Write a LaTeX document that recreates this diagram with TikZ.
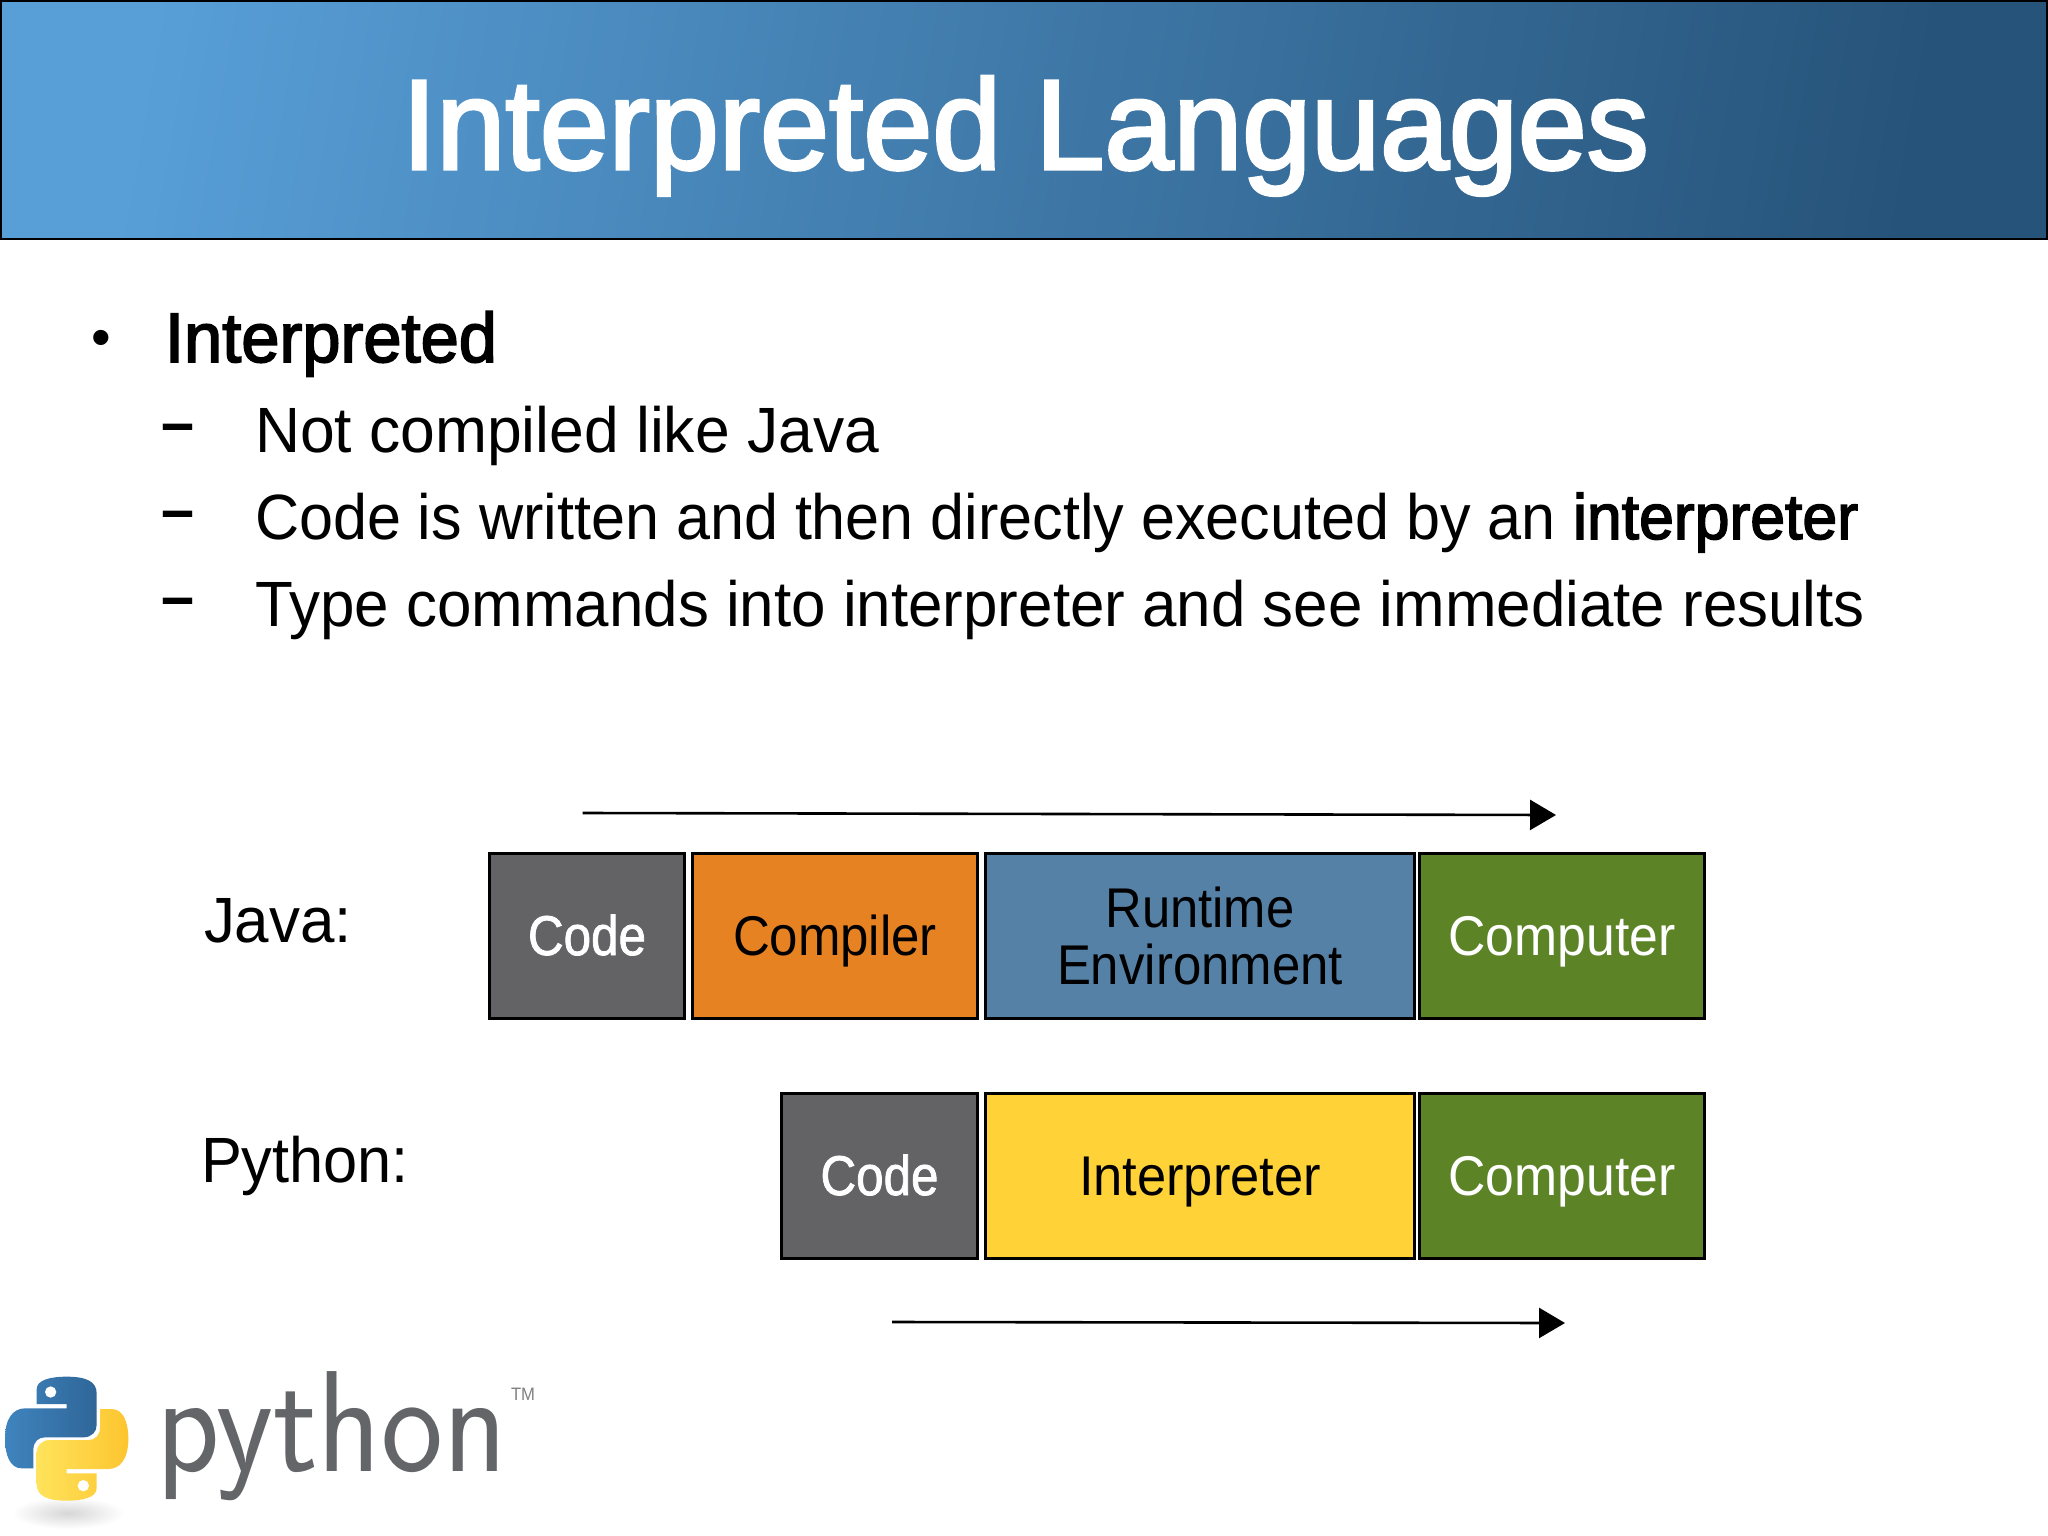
\documentclass[tikz,border=0pt]{standalone}
\usepackage{fontspec}
\usepackage{graphicx}
\usetikzlibrary{arrows.meta}
\setmainfont{Liberation Sans}
\newfontfamily\medfont[FakeBold=2.5]{Liberation Sans}
\newfontfamily\semifont[FakeBold=1.5]{Liberation Sans}
\definecolor{hdA}{HTML}{589FD8}
\definecolor{hdB}{HTML}{3F76A8}
\definecolor{hdC}{HTML}{265379}
\definecolor{cgray}{HTML}{636265}
\definecolor{corange}{HTML}{E78223}
\definecolor{cblue}{HTML}{5681A6}
\definecolor{cgreen}{HTML}{5C8427}
\definecolor{cyellow}{HTML}{FFD338}
\definecolor{wordgray}{HTML}{646569}
\definecolor{pyblueA}{HTML}{3F84BF}
\definecolor{pyblueB}{HTML}{2F6698}
\definecolor{pyyelA}{HTML}{FFE35C}
\definecolor{pyyelB}{HTML}{FDC52F}
\newcommand{\fitw}[2]{\resizebox{#1pt}{\height}{#2}}
\tikzset{
  txt/.style={inner sep=0pt,outer sep=0pt,anchor=base west},
  block/.style={draw=black,line width=1.4pt,minimum height=82.5pt,inner sep=0pt,outer sep=0pt,anchor=north west,
    font=\fontsize{28}{28.5}\selectfont},
  oneline/.style={text height=22pt,text depth=3pt},
  flow/.style={line width=1.3pt,-{Triangle[length=13pt,width=15pt]}}
}
\begin{document}
\begin{tikzpicture}[x=0.5pt,y=-0.5pt]
\useasboundingbox (0,0) rectangle (2048,1535);
\fill[white] (0,0) rectangle (2048,1535);
% header
\shade[left color=hdA,middle color=hdB,right color=hdC,shading angle=80] (0,0) rectangle (2048,239);
\draw[black,line width=1.3pt] (1,1) rectangle (2047,239);
\node[txt,text=white] (title) at (402,169) {\fontsize{64}{64}\medfont\fitw{623.5}{Interpreted Languages}};
% bullets
\node[txt] (b0) at (91,357) {\fontsize{28}{28}\selectfont •};
\node[txt] (l0) at (165,362) {\fontsize{35}{35}\medfont\fitw{166}{Interpreted}};
\node[txt] (d1) at (161,444) {\fontsize{32}{32}\selectfont\bfseries\fitw{16.5}{–}};
\node[txt] (l1) at (255,452) {\fontsize{32}{32}\selectfont\fitw{312}{Not compiled like Java}};
\node[txt] (d2) at (161,531) {\fontsize{32}{32}\selectfont\bfseries\fitw{16.5}{–}};
\node[txt] (l2) at (255,539) {\fontsize{32}{32}\selectfont\fitw{659}{Code is written and then directly executed by an\ }\fitw{142.5}{\medfont interpreter}};
\node[txt] (d3) at (161,618) {\fontsize{32}{32}\selectfont\bfseries\fitw{16.5}{–}};
\node[txt] (l3) at (255,626) {\fontsize{32}{32}\selectfont\fitw{805}{Type commands into interpreter and see immediate results}};
% labels
\node[txt] (java) at (204,942) {\fontsize{32}{32}\selectfont\fitw{74}{Java:}};
\node[txt] (python) at (201,1182) {\fontsize{32}{32}\selectfont\fitw{104}{Python:}};
% Java row
\node[block,oneline,fill=cgray,text=white,minimum width=97.5pt] (jcode) at (489.5,853.5) {\semifont\fitw{59}{Code}};
\node[block,oneline,fill=corange,minimum width=142.5pt] (jcomp) at (692.5,853.5) {\fitw{102}{Compiler}};
\node[block,fill=cblue,minimum width=214.5pt,align=center] (jrun) at (985.5,853.5) {\fitw{94.5}{Runtime}\\\fitw{143}{Environment}};
\node[block,oneline,fill=cgreen,text=white,minimum width=142.5pt] (jpc) at (1419.5,853.5) {\fitw{113.5}{Computer}};
% Python row
\node[block,oneline,fill=cgray,text=white,minimum width=98pt] (pcode) at (781.5,1093.5) {\semifont\fitw{59}{Code}};
\node[block,oneline,fill=cyellow,minimum width=214.5pt] (pint) at (985.5,1093.5) {\fitw{121}{Interpreter}};
\node[block,oneline,fill=cgreen,text=white,minimum width=142.5pt] (ppc) at (1419.5,1093.5) {\fitw{113.5}{Computer}};
% arrows
\coordinate (a1) at (582.5,813);
\coordinate (a2) at (1556,815);
\coordinate (a3) at (892,1322);
\coordinate (a4) at (1565,1323);
\draw[flow] (a1) -- (a2);
\draw[flow] (a3) -- (a4);
% logo
\shade[inner color=black!16,outer color=white] (68,1513) ellipse (56 and 16);
\begin{scope}[shift={(0,1360)},x=0.16667pt,y=-0.16667pt]
\shade[left color=pyblueA,right color=pyblueB]
 (200,50) .. controls (260,50) and (290,65) .. (290,100) -- (290,195)
 .. controls (290,215) and (275,232) .. (250,232) -- (135,232)
 .. controls (115,232) and (100,245) .. (100,270) -- (100,325) -- (65,325)
 .. controls (30,325) and (15,285) .. (15,235)
 .. controls (15,175) and (40,145) .. (75,145) -- (200,145) -- (200,132) -- (110,132) -- (110,88)
 .. controls (110,60) and (150,50) .. (200,50) -- cycle;
\shade[left color=pyyelA,right color=pyyelB]
 (200,422) .. controls (140,422) and (110,407) .. (110,372) -- (110,277)
 .. controls (110,257) and (125,240) .. (150,240) -- (265,240)
 .. controls (285,240) and (300,227) .. (300,202) -- (300,147) -- (335,147)
 .. controls (370,147) and (385,187) .. (385,237)
 .. controls (385,297) and (360,327) .. (325,327) -- (200,327) -- (200,340) -- (290,340) -- (290,384)
 .. controls (290,412) and (250,422) .. (200,422) -- cycle;
\fill[white] (152,96) circle (17);
\fill[white] (250,377) circle (17);
\end{scope}
\node[txt,text=wordgray] (word) at (156,1471) {\fontsize{72}{72}\sffamily\fitw{175.5}{python}};
\node[txt,text=gray] (tm) at (511,1400) {\fontsize{9}{9}\selectfont\fitw{12}{TM}};
\end{tikzpicture}
\end{document}
